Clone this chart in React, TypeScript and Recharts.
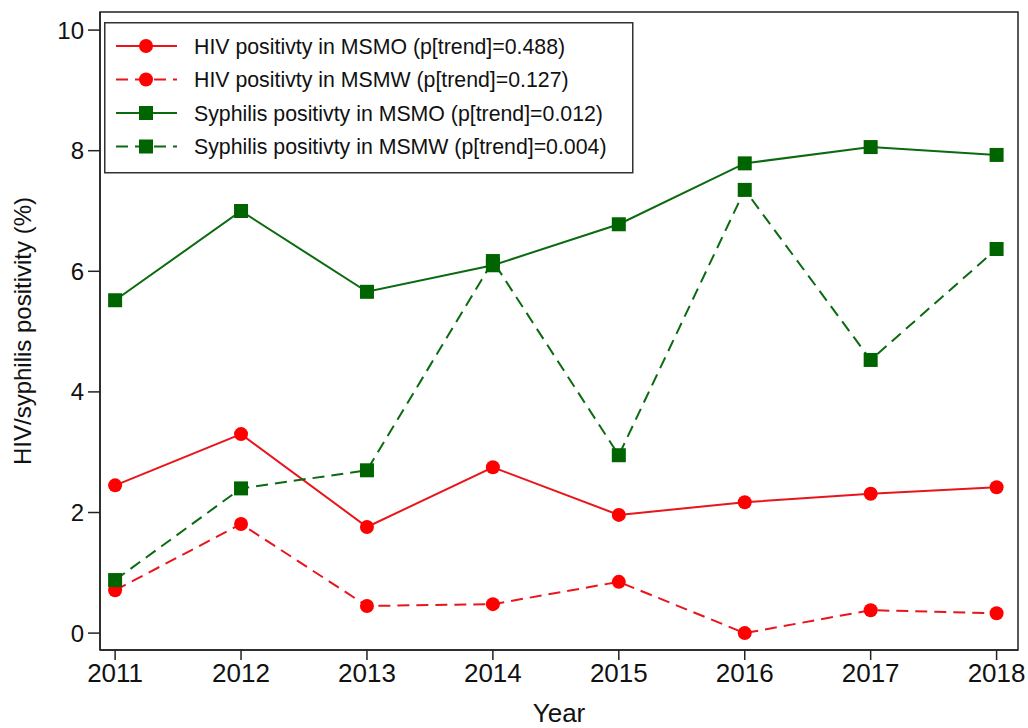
import { LineChart, Line, XAxis, YAxis, ReferenceArea } from "recharts";

const years = [2011, 2012, 2013, 2014, 2015, 2016, 2017, 2018];
const hivMsmo = [2.45, 3.3, 1.76, 2.75, 1.96, 2.17, 2.31, 2.42];
const hivMsmw = [0.71, 1.81, 0.45, 0.48, 0.85, 0.0, 0.38, 0.33];
const syphMsmo = [5.52, 7.0, 5.66, 6.1, 6.78, 7.79, 8.06, 7.93];
const syphMsmw = [0.88, 2.4, 2.7, 6.17, 2.95, 7.35, 4.53, 6.37];
const yTicks = [0, 2, 4, 6, 8, 10];

const legendLabels = [
  "HIV positivty in MSMO (p[trend]=0.488)",
  "HIV positivty in MSMW (p[trend]=0.127)",
  "Syphilis positivty in MSMO (p[trend]=0.012)",
  "Syphilis positivty in MSMW (p[trend]=0.004)",
];

const RED = "#e8161c";
const RED_DOT = "#ff0000";
const GREEN = "#0b6a10";
const GREEN_DOT = "#006400";
const FONT = "'Liberation Sans', Arial, sans-serif";

const X_DOMAIN: [number, number] = [2010.88, 2018.17];
const Y_DOMAIN: [number, number] = [-0.28, 10.3];

const data = years.map((year, i) => ({
  year,
  hivMsmo: hivMsmo[i],
  hivMsmw: hivMsmw[i],
  syphMsmo: syphMsmo[i],
  syphMsmw: syphMsmw[i],
}));

const series = [
  { key: "hivMsmo", color: RED, dotColor: RED_DOT, dashed: false, shape: "circle" },
  { key: "hivMsmw", color: RED, dotColor: RED_DOT, dashed: true, shape: "circle" },
  { key: "syphMsmo", color: GREEN, dotColor: GREEN_DOT, dashed: false, shape: "square" },
  { key: "syphMsmw", color: GREEN, dotColor: GREEN_DOT, dashed: true, shape: "square" },
];

function marker(shape: string, fill: string) {
  return (props: any) => {
    const { cx, cy, index } = props;
    if (cx == null || cy == null) return <g key={index} />;
    if (shape === "circle") {
      return <circle key={index} cx={cx} cy={cy} r={7} fill={fill} />;
    }
    return <rect key={index} x={cx - 7} y={cy - 7} width={14} height={14} fill={fill} />;
  };
}

// legend box sits inside the plot frame, top-left
function LegendBox() {
  return (
    <svg width={530} height={152} style={{ display: "block" }}>
      <rect x={0.75} y={0.75} width={528} height={150} fill="#fff" stroke="#333" strokeWidth={1.5} />
      {series.map((s, i) => {
        const y = 24 + i * 33.5;
        return (
          <g key={s.key}>
            <line
              x1={12}
              x2={73}
              y1={y}
              y2={y}
              stroke={s.color}
              strokeWidth={2}
              strokeDasharray={s.dashed ? "12 7" : undefined}
            />
            {s.shape === "circle" ? (
              <circle cx={42} cy={y} r={7} fill={s.dotColor} />
            ) : (
              <rect x={35} y={y - 7} width={14} height={14} fill={s.dotColor} />
            )}
            <text x={90} y={y + 7.5} fontSize={21.3} fontFamily={FONT} fill="#111">
              {legendLabels[i]}
            </text>
          </g>
        );
      })}
    </svg>
  );
}

export default function App() {
  return (
    <div style={{ position: "absolute", left: 0, top: 0, width: 1028, height: 728, background: "#fff" }}>
      <LineChart
        width={1028}
        height={728}
        data={data}
        margin={{ top: 12, right: 10, left: 0, bottom: 0 }}
      >
        <ReferenceArea
          x1={X_DOMAIN[0]}
          x2={X_DOMAIN[1]}
          y1={Y_DOMAIN[0]}
          y2={Y_DOMAIN[1]}
          fill="none"
          stroke="#222"
          strokeWidth={1.5}
        />
        <XAxis
          dataKey="year"
          type="number"
          domain={X_DOMAIN}
          ticks={years}
          interval={0}
          allowDataOverflow
          height={78}
          tickSize={10}
          tickMargin={4}
          stroke="#222"
          strokeWidth={1.5}
          tick={{ fontSize: 26, fill: "#111", fontFamily: FONT }}
          label={{
            value: "Year",
            position: "insideBottom",
            offset: 6,
            style: { fontSize: 26, fill: "#111", fontFamily: FONT },
          }}
        />
        <YAxis
          type="number"
          domain={Y_DOMAIN}
          ticks={yTicks}
          interval={0}
          allowDataOverflow
          width={100}
          tickSize={12}
          tickMargin={4}
          stroke="#222"
          strokeWidth={1.5}
          tick={{ fontSize: 24, fill: "#111", fontFamily: FONT }}
          label={{
            value: "HIV/syphilis positivity (%)",
            angle: -90,
            position: "insideLeft",
            offset: 22,
            style: { fontSize: 24, fill: "#111", fontFamily: FONT, textAnchor: "middle" },
          }}
        />
        {series.map((s) => (
          <Line
            key={s.key}
            dataKey={s.key}
            type="linear"
            stroke={s.color}
            strokeWidth={2}
            strokeDasharray={s.dashed ? "12 7" : undefined}
            dot={marker(s.shape, s.dotColor)}
            activeDot={false}
            isAnimationActive={false}
          />
        ))}
      </LineChart>
      <div style={{ position: "absolute", left: 104, top: 22 }}>
        <LegendBox />
      </div>
    </div>
  );
}
